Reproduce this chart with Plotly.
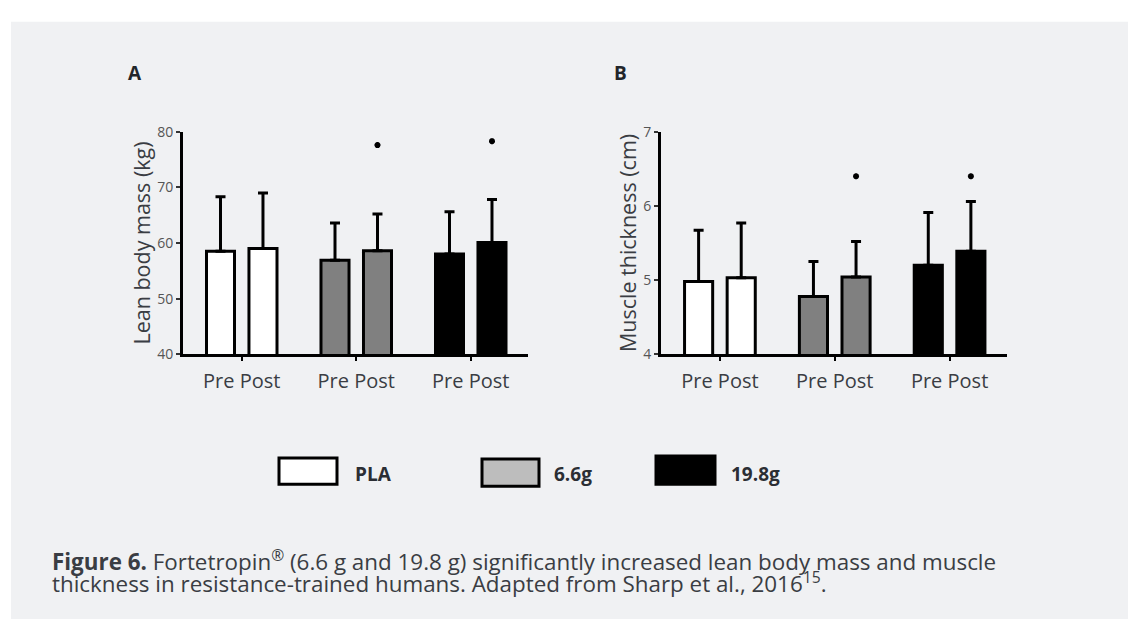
import plotly.graph_objects as go

# ---------------- data ----------------
groups = ["PLA", "6.6g", "19.8g"]
group_index = [0, 1, 2]
tick_label = "Pre Post"

lbm_pre = [58.5, 56.9, 58.0]
lbm_pre_sd = [9.8, 6.7, 7.6]
lbm_post = [59.0, 58.6, 60.1]
lbm_post_sd = [10.0, 6.6, 7.7]
lbm_star = [None, 77.6, 78.3]

mt_pre = [4.98, 4.78, 5.20]
mt_pre_sd = [0.69, 0.47, 0.71]
mt_post = [5.03, 5.04, 5.39]
mt_post_sd = [0.74, 0.48, 0.67]
mt_star = [None, 6.40, 6.40]

bar_colors = ["#ffffff", "#808080", "#000000"]
legend_colors = ["#ffffff", "#bdbdbd", "#000000"]

# ---------------- layout helpers ----------------
W, H = 1128, 628
def px(x):
    return x / W
def py(y):
    return 1 - y / H

BARGAP = 0.258
BARGROUPGAP = 0.34
slot = (1 - BARGAP) / 2
post_offset = slot / 2

TXT = "#3a3d43"
FONT = "Open Sans"

fig = go.Figure()

def add_panel(xa, ya, pre, pre_sd, post, post_sd, star):
    for vals, sd, name in [(pre, pre_sd, "Pre"), (post, post_sd, "Post")]:
        fig.add_trace(go.Bar(
            x=group_index, y=vals, name=name, xaxis=xa, yaxis=ya,
            marker=dict(color=bar_colors, line=dict(color="black", width=3)),
            error_y=dict(type="data", array=sd, arrayminus=[0] * len(sd),
                         symmetric=False, color="black", thickness=3, width=5),
            showlegend=False, hoverinfo="skip",
        ))
    fig.add_trace(go.Scatter(
        x=[g + post_offset for g in group_index], y=star, mode="markers",
        xaxis=xa, yaxis=ya,
        marker=dict(symbol="asterisk-open", size=5, color="black",
                    line=dict(color="black", width=2)),
        showlegend=False, hoverinfo="skip",
    ))

add_panel("x", "y", lbm_pre, lbm_pre_sd, lbm_post, lbm_post_sd, lbm_star)
add_panel("x2", "y2", mt_pre, mt_pre_sd, mt_post, mt_post_sd, mt_star)

xcommon = dict(
    range=[-0.513, 2.5], tickvals=group_index, ticktext=[tick_label] * 3,
    showline=True, linecolor="black", linewidth=3, ticks="outside",
    ticklen=4, tickwidth=2, tickcolor="black", showgrid=False, zeroline=False,
    tickfont=dict(family=FONT, size=20, color=TXT), ticklabelstandoff=3,
    fixedrange=True,
)
ycommon = dict(
    showline=True, linecolor="black", linewidth=3, ticks="outside",
    ticklen=4, tickwidth=2, tickcolor="#333333", showgrid=False, zeroline=False,
    tickfont=dict(family=FONT, size=14, color="#555555"),
    fixedrange=True,
)

ydom = [py(355), py(125.5)]

fig.update_layout(
    width=W, height=H,
    margin=dict(l=0, r=0, t=0, b=0),
    paper_bgcolor="white", plot_bgcolor="rgba(0,0,0,0)",
    barmode="group", bargap=BARGAP, bargroupgap=BARGROUPGAP,
    xaxis=dict(domain=[px(183), px(528)], anchor="y", **xcommon),
    xaxis2=dict(domain=[px(661), px(1007)], anchor="y2", **xcommon),
    yaxis=dict(domain=ydom, anchor="x", range=[40, 80], tickvals=[40, 50, 60, 70, 80],
               title=dict(text="Lean body mass (kg)", standoff=1,
                          font=dict(family=FONT, size=21.5, color=TXT)),
               **ycommon),
    yaxis2=dict(domain=ydom, anchor="x2", range=[4, 7], tickvals=[4, 5, 6, 7],
                title=dict(text="Muscle thickness (cm)", standoff=1,
                           font=dict(family=FONT, size=21.5, color=TXT)),
                **ycommon),
    showlegend=False,
)

shapes = [dict(type="rect", xref="paper", yref="paper", layer="below",
               x0=px(11), x1=1, y0=0, y1=py(12),
               fillcolor="#f0f1f3", line=dict(width=0))]

legend_boxes = [(279, 337, 462, 489), (482, 539, 463, 491), (656, 715, 460, 489)]
legend_text_x = [353, 552, 729]
for (x0, x1, y0, y1), col in zip(legend_boxes, legend_colors):
    shapes.append(dict(type="rect", xref="paper", yref="paper",
                       x0=px(x0), x1=px(x1), y0=py(y1), y1=py(y0),
                       fillcolor=col, line=dict(color="black", width=3)))
fig.update_layout(shapes=shapes)

annotations = []
for name, tx in zip(groups, legend_text_x):
    annotations.append(dict(text=f"<b>{name}</b>", xref="paper", yref="paper",
                            x=px(tx), y=py(478), xanchor="left", yanchor="middle",
                            showarrow=False,
                            font=dict(family=FONT, size=19, color="#2b2e34")))
for lab, cx in [("A", 135), ("B", 621)]:
    annotations.append(dict(text=f"<b>{lab}</b>", xref="paper", yref="paper",
                            x=px(cx), y=py(64.5), xanchor="center", yanchor="middle",
                            showarrow=False,
                            font=dict(family=FONT, size=19, color="#22252a")))
annotations.append(dict(
    text="<b>Figure 6.</b> Fortetropin<sup>®</sup> (6.6 g and 19.8 g) significantly increased lean body mass and muscle",
    xref="paper", yref="paper", x=px(50), y=py(568), xanchor="left", yanchor="middle",
    showarrow=False, font=dict(family=FONT, size=22.4, color=TXT)))
annotations.append(dict(
    text="thickness in resistance-trained humans. Adapted from Sharp et al., 2016<sup>15</sup>.",
    xref="paper", yref="paper", x=px(50), y=py(590), xanchor="left", yanchor="middle",
    showarrow=False, font=dict(family=FONT, size=22.4, color=TXT)))
fig.update_layout(annotations=annotations)

fig.write_html(
    "out.html",
    config={"displayModeBar": False, "staticPlot": True},
    post_script="document.body.style.margin='0';document.body.style.overflow='hidden';",
)
